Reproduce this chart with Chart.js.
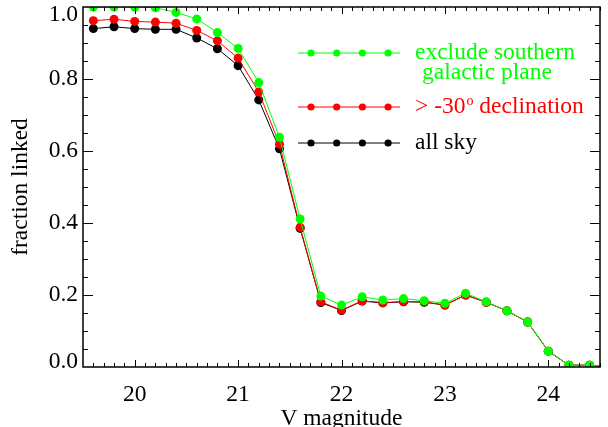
<!DOCTYPE html>
<html>
<head>
<meta charset="utf-8">
<script src="https://cdn.jsdelivr.net/npm/chart.js@4.4.1/dist/chart.umd.min.js"></script>
<style>
html, body { margin: 0; padding: 0; background: #fff; }
</style>
</head>
<body>
<canvas id="myChart" width="608" height="427"></canvas>
<script>
// V magnitude bins and fraction linked for each sky selection
var vmag = [19.6, 19.8, 20.0, 20.2, 20.4, 20.6, 20.8, 21.0, 21.2, 21.4, 21.6, 21.8, 22.0,
            22.2, 22.4, 22.6, 22.8, 23.0, 23.2, 23.4, 23.6, 23.8, 24.0, 24.2, 24.4, 24.6];
var fracNoPlane = [1.0, 1.0, 1.0, 0.998, 0.985, 0.967, 0.929, 0.885, 0.790, 0.638, 0.411, 0.197, 0.172,
                   0.195, 0.186, 0.190, 0.184, 0.177, 0.205, 0.181, 0.156, 0.125, 0.044, 0.005, 0.005, 0.0];
var fracDecl = [0.962, 0.966, 0.960, 0.958, 0.955, 0.935, 0.906, 0.858, 0.764, 0.619, 0.388, 0.181, 0.158,
                0.184, 0.179, 0.182, 0.181, 0.172, 0.200, 0.180, 0.156, 0.125, 0.044, 0.005, 0.005, 0.0];
var fracAll = [0.940, 0.945, 0.940, 0.938, 0.938, 0.914, 0.884, 0.837, 0.742, 0.606, 0.385, 0.179, 0.157,
               0.183, 0.178, 0.181, 0.180, 0.172, 0.200, 0.180, 0.156, 0.125, 0.044, 0.005, 0.005, 0.0];
var xTicks = [20, 21, 22, 23, 24];
var yTicks = [0.0, 0.2, 0.4, 0.6, 0.8, 1.0];
var seriesNames = ['exclude southern', '> -30', 'all sky'];

var FONT = 'Liberation Serif';
var green = 'rgb(0,255,0)';
var red = 'rgb(255,0,0)';

function pts(ys) {
    return vmag.map(function(x, i) { return {x: x, y: ys[i]}; });
}
function ds(label, ys, col) {
    return {
        label: label,
        data: pts(ys),
        borderColor: col,
        backgroundColor: col,
        pointBackgroundColor: col,
        pointBorderColor: col,
        borderWidth: 1,
        pointRadius: 4.5,
        pointBorderWidth: 0,
        tension: 0
    };
}

// IDL-style box with inward ticks, plus the hand-made legend
var boxPlugin = {
    id: 'box',
    beforeDraw: function(chart) {
        // keep the end labels of the y axis inside the box height
        var items = chart.scales.y.getLabelItems(chart.chartArea);
        if (items.length) {
            items[0].options.translation[1] -= 5;
            items[items.length - 1].options.translation[1] += 8;
        }
    },
    afterDatasetsDraw: function(chart) {
        var c = chart.ctx, a = chart.chartArea;
        var xs = chart.scales.x, ys = chart.scales.y;
        c.save();
        c.strokeStyle = '#000';
        c.lineWidth = 1.5;
        c.strokeRect(a.left, a.top, a.right - a.left, a.bottom - a.top);
        c.lineWidth = 1;
        c.beginPath();
        for (var i = 196; i <= 245; i++) {
            var v = i / 10, px = Math.round(xs.getPixelForValue(v)) + 0.5;
            var len = (i % 10 === 0) ? 7 : 4;
            c.moveTo(px, a.bottom); c.lineTo(px, a.bottom - len);
            c.moveTo(px, a.top); c.lineTo(px, a.top + len);
        }
        for (var j = 1; j < 20; j++) {
            var py = Math.round(ys.getPixelForValue(j * 0.05)) + 0.5;
            var l2 = (j % 4 === 0) ? 10 : 5;
            c.moveTo(a.left, py); c.lineTo(a.left + l2, py);
            c.moveTo(a.right, py); c.lineTo(a.right - l2, py);
        }
        c.stroke();
        c.restore();
    },
    afterDraw: function(chart) {
        var c = chart.ctx, a = chart.chartArea;
        var rows = [
            {col: green, y: a.top + 46},
            {col: red, y: a.top + 100},
            {col: '#000', y: a.top + 136}
        ];
        var x0 = a.left + 215, x1 = a.left + 317, tx = a.left + 332;
        c.save();
        rows.forEach(function(r, k) {
            c.strokeStyle = r.col;
            c.fillStyle = r.col;
            c.lineWidth = 1;
            c.beginPath();
            c.moveTo(x0, r.y); c.lineTo(x1, r.y);
            c.stroke();
            for (var m = 0; m < 4; m++) {
                c.beginPath();
                c.arc(x0 + 13 + m * 25.7, r.y, 3.6, 0, Math.PI * 2);
                c.fill();
            }
            c.font = '23.5px "' + FONT + '"';
            c.textBaseline = 'middle';
            c.textAlign = 'left';
            if (k === 0) {
                c.fillText(seriesNames[0], tx, r.y);
                c.fillText('galactic plane', tx + 7, r.y + 20);
            } else if (k === 1) {
                c.fillText(seriesNames[1], tx, r.y);
                var w = c.measureText(seriesNames[1]).width;
                c.font = '14px "' + FONT + '"';
                c.fillText('o', tx + w + 1, r.y - 6);
                var w2 = c.measureText('o').width;
                c.font = '23.5px "' + FONT + '"';
                c.fillText(' declination', tx + w + w2 + 1, r.y);
            } else {
                c.fillText(seriesNames[2], tx, r.y);
            }
        });
        c.restore();
    }
};

var ctx = document.getElementById('myChart').getContext('2d');
var myChart = new Chart(ctx, {
    type: 'line',
    data: {
        datasets: [
            ds('exclude southern galactic plane', fracNoPlane, green),
            ds('> -30 declination', fracDecl, red),
            ds('all sky', fracAll, '#000')
        ]
    },
    options: {
        responsive: false,
        animation: false,
        layout: { padding: { top: 7, right: 8, left: 0, bottom: 0 } },
        plugins: { legend: { display: false }, tooltip: { enabled: false } },
        scales: {
            x: {
                type: 'linear',
                min: 19.5,
                max: 24.5,
                grid: { display: false, drawTicks: false },
                border: { display: false },
                afterBuildTicks: function(s) { s.ticks = xTicks.map(function(v) { return {value: v}; }); },
                afterFit: function(s) { s.height = 60; s.paddingLeft = 0; s.paddingRight = 0; },
                ticks: {
                    color: '#000',
                    padding: 14,
                    maxRotation: 0,
                    font: { family: FONT, size: 23.5 },
                    callback: function(v) { return String(v); }
                },
                title: {
                    display: true,
                    text: 'V magnitude',
                    color: '#000',
                    padding: { top: 0, bottom: 0 },
                    font: { family: FONT, size: 23.5, lineHeight: 0.7 }
                }
            },
            y: {
                min: 0,
                max: 1,
                grid: { display: false, drawTicks: false },
                border: { display: false },
                afterBuildTicks: function(s) { s.ticks = yTicks.map(function(v) { return {value: v}; }); },
                afterFit: function(s) { s.width = 83; s.paddingTop = 0; s.paddingBottom = 0; },
                ticks: {
                    color: '#000',
                    padding: 5,
                    font: { family: FONT, size: 23.5 },
                    callback: function(v) { return Number(v).toFixed(1); }
                },
                title: {
                    display: true,
                    text: 'fraction linked',
                    color: '#000',
                    padding: { top: 7, bottom: 0 },
                    font: { family: FONT, size: 23.5, lineHeight: 1.2 }
                }
            }
        }
    },
    plugins: [boxPlugin]
});
</script>
</body>
</html>
